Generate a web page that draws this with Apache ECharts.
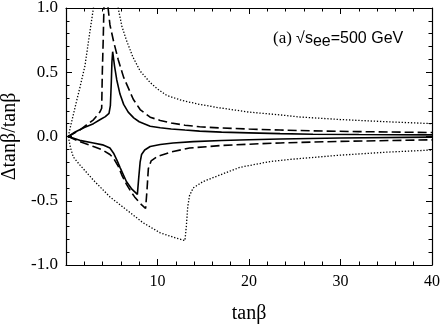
<!DOCTYPE html>
<html>
<head>
<meta charset="utf-8">
<script src="https://cdn.jsdelivr.net/npm/echarts@6/dist/echarts.min.js"></script>
<style>
  html, body { margin: 0; padding: 0; background: #fff; }
  #main { width: 443px; height: 329px; }
</style>
</head>
<body>
<div id="main"></div>
<script>
// tick labels
const xTicks = [10, 20, 30, 40];
const yTicks = ['-1.0', '-0.5', '0.0', '0.5', '1.0'];

// solid curve (upper / lower branch)
const solidUpX = [0.25, 1.0, 2.0, 3.0, 3.7, 4.3, 4.7, 4.85, 4.95, 5.02, 5.1, 5.3, 5.55, 5.9, 6.3, 6.8, 7.4, 8.0, 9.2, 10.3, 11.5, 13, 14.6, 17, 20, 23.4, 27, 32, 36, 40];
const solidUpY = [0, 0.035, 0.07, 0.10, 0.13, 0.155, 0.18, 0.24, 0.42, 0.58, 0.66, 0.55, 0.44, 0.33, 0.25, 0.19, 0.145, 0.115, 0.08, 0.068, 0.058, 0.05, 0.042, 0.034, 0.028, 0.022, 0.018, 0.015, 0.014, 0.013];
const solidDnX = [0.25, 1.5, 3.0, 4.0, 4.8, 5.2, 5.6, 5.9, 6.6, 7.2, 7.8, 7.95, 8.1, 8.26, 8.6, 9.2, 10.3, 11.7, 13.9, 17, 20, 23.4, 30, 40];
const solidDnY = [0, -0.03, -0.05, -0.065, -0.09, -0.13, -0.19, -0.24, -0.35, -0.41, -0.45, -0.32, -0.2, -0.14, -0.105, -0.078, -0.062, -0.05, -0.04, -0.031, -0.025, -0.02, -0.012, -0.005];

// dashed curve
const dashUpX = [0.25, 1.5, 3.0, 3.7, 3.9, 3.97, 4.07, 4.15, 4.43, 4.6, 4.8, 5.2, 5.7, 6.3, 7.35, 8.1, 9.2, 10.3, 11.5, 13, 14.6, 17, 20, 23.4, 27, 32, 40];
const dashUpY = [0, 0.05, 0.13, 0.19, 0.22, 0.5, 0.76, 1.02, 1.25, 1.0, 0.87, 0.74, 0.6, 0.46, 0.29, 0.21, 0.15, 0.125, 0.105, 0.088, 0.076, 0.066, 0.058, 0.05, 0.044, 0.038, 0.031];
const dashDnX = [0.25, 1.5, 3.0, 4.0, 4.8, 5.2, 5.7, 6.1, 6.6, 7.1, 7.5, 8.1, 8.7, 8.85, 9.0, 9.3, 10.0, 11.5, 13.5, 17, 20, 23.4, 30, 40];
const dashDnY = [0, -0.04, -0.078, -0.105, -0.14, -0.17, -0.23, -0.3, -0.37, -0.43, -0.47, -0.52, -0.56, -0.42, -0.25, -0.19, -0.155, -0.12, -0.09, -0.07, -0.06, -0.05, -0.038, -0.026];

// dotted curve
const dotUpX = [0.25, 0.5, 0.8, 1.17, 1.5, 2.07, 2.6, 3.0, 4.35, 5.7, 6.1, 6.6, 7.3, 8.1, 9.2, 10.0, 11.0, 12.7, 14.6, 16.6, 20, 23.4, 25.5, 30, 35, 40];
const dotUpY = [0, 0.08, 0.17, 0.28, 0.375, 0.55, 0.81, 1.0, 2.6, 1.0, 0.86, 0.75, 0.62, 0.51, 0.42, 0.37, 0.32, 0.28, 0.25, 0.225, 0.19, 0.168, 0.152, 0.132, 0.115, 0.10];
const dotDnX = [0.25, 0.5, 0.8, 1.5, 3.0, 4.8, 6.6, 8.4, 10.3, 12.0, 13.0, 13.15, 13.3, 13.5, 13.9, 15.0, 16.8, 19.0, 22.3, 24.5, 30, 35, 40];
const dotDnY = [0, -0.09, -0.16, -0.22, -0.34, -0.47, -0.57, -0.67, -0.75, -0.79, -0.81, -0.7, -0.55, -0.46, -0.40, -0.35, -0.30, -0.24, -0.195, -0.178, -0.145, -0.122, -0.105];

function pairs(xs, ys) {
  return xs.map((x, i) => [x, ys[i]]);
}

const chart = echarts.init(document.getElementById('main'));

const serif = 'Liberation Serif';
const sans = 'Liberation Sans';

function xAx(pos, labels) {
  return {
    type: 'value', position: pos, min: 0, max: 40, interval: 10,
    name: labels ? 'tanβ' : '', nameLocation: 'middle', nameGap: 39,
    nameTextStyle: { fontFamily: serif, fontSize: 20, color: '#000' },
    axisLine: { show: true, onZero: false, lineStyle: { color: '#000', width: 1.2 } },
    axisTick: { show: true, inside: true, length: 6, lineStyle: { color: '#000', width: 1 } },
    minorTick: { show: true, splitNumber: 5, length: 3.5, lineStyle: { color: '#000', width: 1 } },
    axisLabel: {
      show: labels, margin: 9, fontFamily: serif, fontSize: 16, color: '#000',
      formatter: v => (xTicks.indexOf(v) >= 0 ? String(v) : '')
    },
    splitLine: { show: false }
  };
}

function yAx(pos, labels) {
  return {
    type: 'value', position: pos, min: -1, max: 1, interval: 0.5,
    name: labels ? 'Δtanβ/tanβ' : '', nameLocation: 'middle', nameGap: 43,
    nameTextStyle: { fontFamily: serif, fontSize: 20, color: '#000' },
    axisLine: { show: true, onZero: false, lineStyle: { color: '#000', width: 1.2 } },
    axisTick: { show: true, inside: true, length: 6, lineStyle: { color: '#000', width: 1 } },
    minorTick: { show: true, splitNumber: 5, length: 3.5, lineStyle: { color: '#000', width: 1 } },
    axisLabel: {
      show: labels, margin: 8, fontFamily: serif, fontSize: 17, color: '#000',
      formatter: v => yTicks[Math.round((v + 1) / 0.5)]
    },
    splitLine: { show: false }
  };
}

function curve(data, type, width) {
  return {
    type: 'line', data: data, xAxisIndex: 0, yAxisIndex: 0,
    symbol: 'none', smooth: false, clip: true, silent: true,
    lineStyle: { color: '#000', width: width, type: type, cap: 'butt' }
  };
}

const option = {
  animation: false,
  backgroundColor: '#fff',
  grid: { left: 66, right: 11, top: 8, bottom: 64, containLabel: false, outerBoundsMode: 'none' },
  xAxis: [xAx('bottom', true), xAx('top', false)],
  yAxis: [yAx('left', true), yAx('right', false)],
  graphic: [{
    type: 'text', left: 273, top: 30,
    style: {
      text: '{a|(a) }{b|√s}{c|ee}{b|=500 GeV}',
      rich: {
        a: { fontFamily: serif, fontSize: 17, lineHeight: 22, fill: '#000' },
        b: { fontFamily: sans, fontSize: 16, lineHeight: 22, fill: '#000' },
        c: { fontFamily: sans, fontSize: 16, lineHeight: 14, verticalAlign: 'bottom', fill: '#000' }
      }
    }
  }],
  series: [
    curve(pairs(solidUpX, solidUpY), 'solid', 1.6),
    curve(pairs(solidDnX, solidDnY), 'solid', 1.6),
    curve(pairs(dashUpX, dashUpY), [9, 4], 1.6),
    curve(pairs(dashDnX, dashDnY), [9, 4], 1.6),
    curve(pairs(dotUpX, dotUpY), [1.3, 1.8], 1.3),
    curve(pairs(dotDnX, dotDnY), [1.3, 1.8], 1.3)
  ]
};

chart.setOption(option);
</script>
</body>
</html>
